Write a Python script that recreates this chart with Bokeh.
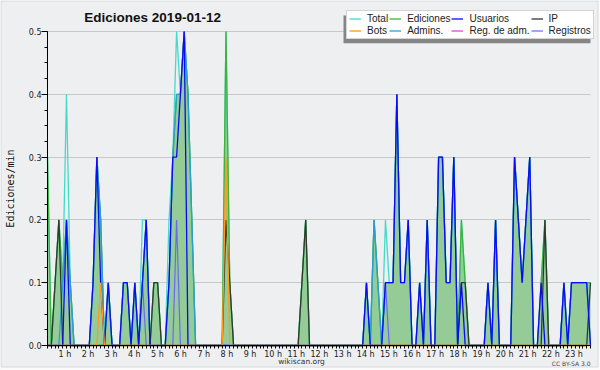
from bokeh.plotting import figure
from bokeh.models import (ColumnDataSource, FixedTicker, Legend, LegendItem, Label,
                          BoxAnnotation, CustomJSTickFormatter, NumeralTickFormatter, Range1d)
from bokeh.embed import file_html
from bokeh.resources import INLINE
import math

# ---- data: edits per minute, one value per 10-minute slot (00:00 .. 23:50) ----
slots = list(range(144))

total = [
    0.3, 0, 0.1, 0.2, 0.1, 0.4,      # 0 h
    0.1, 0, 0, 0, 0, 0,              # 1 h
    0.1, 0.3, 0.2, 0, 0.1, 0,        # 2 h
    0, 0, 0.1, 0.1, 0, 0.1,          # 3 h
    0, 0.2, 0.2, 0, 0.1, 0.1,        # 4 h
    0, 0, 0.2, 0.3, 0.5, 0.4,        # 5 h
    0.5, 0.4, 0.2, 0, 0, 0,          # 6 h
    0, 0, 0, 0, 0, 0.5,              # 7 h
    0.1, 0, 0, 0, 0, 0,              # 8 h
    0, 0, 0, 0, 0, 0,                # 9 h
    0, 0, 0, 0, 0, 0,                # 10 h
    0, 0.1, 0.2, 0, 0, 0,            # 11 h
    0, 0, 0, 0, 0, 0,                # 12 h
    0, 0, 0, 0, 0, 0,                # 13 h
    0.1, 0, 0.2, 0.1, 0, 0.2,        # 14 h
    0.1, 0.1, 0.4, 0.1, 0.1, 0.2,    # 15 h
    0, 0, 0.1, 0, 0.2, 0,            # 16 h
    0, 0.3, 0.3, 0.1, 0.1, 0.3,      # 17 h
    0, 0.2, 0.1, 0, 0, 0,            # 18 h
    0, 0, 0.1, 0, 0.2, 0,            # 19 h
    0, 0, 0, 0.3, 0.2, 0.1,          # 20 h
    0.2, 0.3, 0, 0, 0.1, 0.2,        # 21 h
    0, 0, 0, 0, 0.1, 0,              # 22 h
    0.1, 0.1, 0.1, 0.1, 0.1, 0.1,    # 23 h
]

edits = [
    0.3, 0, 0.1, 0.2, 0.1, 0.2,
    0.1, 0, 0, 0, 0, 0,
    0.1, 0.3, 0.2, 0, 0.1, 0,
    0, 0, 0.1, 0.1, 0, 0.1,
    0, 0.1, 0.2, 0, 0.1, 0.1,
    0, 0, 0.1, 0.3, 0.4, 0.4,
    0.5, 0.4, 0.2, 0, 0, 0,
    0, 0, 0, 0, 0, 0.5,
    0.1, 0, 0, 0, 0, 0,
    0, 0, 0, 0, 0, 0,
    0, 0, 0, 0, 0, 0,
    0, 0.1, 0.2, 0, 0, 0,
    0, 0, 0, 0, 0, 0,
    0, 0, 0, 0, 0, 0,
    0.1, 0, 0.2, 0.1, 0, 0.1,
    0.1, 0.1, 0.4, 0.1, 0.1, 0.2,
    0, 0, 0.1, 0, 0.2, 0,
    0, 0.3, 0.3, 0.1, 0.1, 0.3,
    0, 0.2, 0.1, 0, 0, 0,
    0, 0, 0.1, 0, 0.2, 0,
    0, 0, 0, 0.3, 0.2, 0.1,
    0.2, 0.3, 0, 0, 0.1, 0.2,
    0, 0, 0, 0, 0.1, 0,
    0.1, 0.1, 0.1, 0.1, 0.1, 0.1,
]

users = [
    0, 0, 0, 0, 0, 0.2,
    0, 0, 0, 0, 0, 0,
    0.1, 0.3, 0.1, 0, 0.1, 0,
    0, 0, 0.1, 0.1, 0, 0.1,
    0, 0.1, 0.2, 0, 0, 0,
    0, 0, 0.1, 0.3, 0.3, 0.4,
    0.5, 0, 0, 0, 0, 0,
    0, 0, 0, 0, 0, 0,
    0, 0, 0, 0, 0, 0,
    0, 0, 0, 0, 0, 0,
    0, 0, 0, 0, 0, 0,
    0, 0, 0, 0, 0, 0,
    0, 0, 0, 0, 0, 0,
    0, 0, 0, 0, 0, 0,
    0.1, 0, 0, 0, 0, 0.1,
    0.1, 0.1, 0.4, 0.1, 0.1, 0.2,
    0, 0, 0.1, 0, 0.2, 0,
    0, 0.3, 0.3, 0.1, 0.1, 0.3,
    0, 0.1, 0, 0, 0, 0,
    0, 0, 0.1, 0, 0.2, 0,
    0, 0, 0, 0.3, 0.2, 0.1,
    0.2, 0.3, 0, 0, 0.1, 0,
    0, 0, 0, 0, 0.1, 0,
    0.1, 0.1, 0.1, 0.1, 0.1, 0,
]

ip = [
    0, 0, 0.1, 0.2, 0, 0,
    0, 0, 0, 0, 0, 0,
    0, 0, 0, 0, 0, 0,
    0, 0, 0, 0, 0, 0,
    0, 0, 0, 0, 0.1, 0.1,
    0, 0, 0, 0, 0, 0,
    0, 0, 0, 0, 0, 0,
    0, 0, 0, 0, 0, 0.2,
    0.1, 0, 0, 0, 0, 0,
    0, 0, 0, 0, 0, 0,
    0, 0, 0, 0, 0, 0,
    0, 0.1, 0.2, 0, 0, 0,
    0, 0, 0, 0, 0, 0,
    0, 0, 0, 0, 0, 0,
    0, 0, 0, 0, 0, 0,
    0, 0, 0, 0, 0, 0,
    0, 0, 0, 0, 0, 0,
    0, 0, 0, 0, 0, 0,
    0, 0.1, 0.1, 0, 0, 0,
    0, 0, 0, 0, 0, 0,
    0, 0, 0, 0, 0, 0,
    0, 0, 0, 0, 0, 0.2,
    0, 0, 0, 0, 0, 0,
    0, 0, 0, 0, 0, 0.1,
]

bots = [
    0, 0, 0, 0, 0, 0,
    0, 0, 0, 0, 0, 0,
    0, 0, 0.1, 0, 0, 0,
    0, 0, 0, 0, 0, 0,
    0, 0, 0, 0, 0, 0,
    0, 0, 0, 0, 0, 0,
    0, 0, 0, 0, 0, 0,
    0, 0, 0, 0, 0, 0.3,
    0, 0, 0, 0, 0, 0,
    0, 0, 0, 0, 0, 0,
    0, 0, 0, 0, 0, 0,
    0, 0, 0, 0, 0, 0,
    0, 0, 0, 0, 0, 0,
    0, 0, 0, 0, 0, 0,
    0, 0, 0, 0, 0, 0,
    0, 0, 0, 0, 0, 0,
    0, 0, 0, 0, 0, 0,
    0, 0, 0, 0, 0, 0,
    0, 0, 0, 0, 0, 0,
    0, 0, 0, 0, 0, 0,
    0, 0, 0, 0, 0, 0,
    0, 0, 0, 0, 0, 0,
    0, 0, 0, 0, 0, 0,
    0, 0, 0, 0, 0, 0,
]

admins = [
    0, 0, 0, 0, 0.1, 0.2,
    0.1, 0, 0, 0, 0, 0,
    0.1, 0.3, 0.2, 0, 0.1, 0,
    0, 0, 0.1, 0.1, 0, 0.1,
    0, 0.1, 0.2, 0, 0, 0,
    0, 0, 0.1, 0.3, 0.4, 0.4,
    0.5, 0.4, 0.2, 0, 0, 0,
    0, 0, 0, 0, 0, 0,
    0, 0, 0, 0, 0, 0,
    0, 0, 0, 0, 0, 0,
    0, 0, 0, 0, 0, 0,
    0, 0, 0, 0, 0, 0,
    0, 0, 0, 0, 0, 0,
    0, 0, 0, 0, 0, 0,
    0.1, 0, 0.2, 0.1, 0, 0.1,
    0.1, 0.1, 0.4, 0.1, 0.1, 0.2,
    0, 0, 0.1, 0, 0.2, 0,
    0, 0.3, 0.3, 0.1, 0.1, 0.3,
    0, 0, 0, 0, 0, 0,
    0, 0, 0.1, 0, 0.2, 0,
    0, 0, 0, 0.3, 0.2, 0.1,
    0.2, 0.3, 0, 0, 0, 0,
    0, 0, 0, 0, 0.1, 0,
    0.1, 0.1, 0.1, 0.1, 0.1, 0,
]

reg_adm = [
    0, 0, 0, 0, 0, 0,
    0, 0, 0, 0, 0, 0,
    0, 0, 0, 0, 0, 0,
    0, 0, 0, 0, 0, 0,
    0, 0, 0, 0, 0, 0,
    0, 0, 0, 0, 0, 0,
    0, 0, 0, 0, 0, 0,
    0, 0, 0, 0, 0, 0,
    0, 0, 0, 0, 0, 0,
    0, 0, 0, 0, 0, 0,
    0, 0, 0, 0, 0, 0,
    0, 0, 0, 0, 0, 0,
    0, 0, 0, 0, 0, 0,
    0, 0, 0, 0, 0, 0,
    0, 0, 0, 0, 0, 0,
    0, 0, 0, 0, 0, 0,
    0, 0, 0, 0, 0, 0,
    0, 0, 0, 0, 0, 0,
    0, 0, 0, 0, 0, 0,
    0, 0, 0, 0, 0, 0,
    0, 0, 0, 0, 0, 0,
    0, 0, 0, 0, 0, 0,
    0, 0, 0, 0, 0, 0,
    0, 0, 0, 0, 0, 0,
]

registros = [
    0, 0, 0, 0, 0, 0,
    0, 0, 0, 0, 0, 0,
    0, 0, 0, 0, 0, 0,
    0, 0, 0, 0, 0, 0,
    0, 0.1, 0, 0, 0, 0,
    0, 0, 0, 0, 0.2, 0,
    0, 0, 0, 0, 0, 0,
    0, 0, 0, 0, 0, 0,
    0, 0, 0, 0, 0, 0,
    0, 0, 0, 0, 0, 0,
    0, 0, 0, 0, 0, 0,
    0, 0, 0, 0, 0, 0,
    0, 0, 0, 0, 0, 0,
    0, 0, 0, 0, 0, 0,
    0, 0, 0, 0, 0, 0.1,
    0, 0, 0, 0, 0, 0,
    0, 0, 0, 0, 0, 0,
    0, 0, 0, 0, 0, 0,
    0, 0, 0, 0, 0, 0,
    0, 0, 0, 0, 0, 0,
    0, 0, 0, 0, 0, 0,
    0, 0, 0, 0, 0, 0,
    0, 0, 0, 0, 0, 0,
    0, 0, 0, 0, 0, 0,
]

hour_labels = [f"{h} h" for h in range(1, 24)]
y_ticks = [0.0, 0.1, 0.2, 0.3, 0.4, 0.5]

# ---- layout: the frame fills the whole canvas, axes are pinned inside it ----
W, H = 600, 370
PLOT_L, PLOT_R, PLOT_T, PLOT_B = 47, 590, 31, 345
X_LAST, Y_TOP = 143, 0.5
sx = (PLOT_R - PLOT_L) / X_LAST
sy = (PLOT_B - PLOT_T) / Y_TOP
x_range = Range1d(-PLOT_L / sx, X_LAST + (W - PLOT_R) / sx)
y_range = Range1d(-(H - PLOT_B) / sy, Y_TOP + PLOT_T / sy)


def dx(px):
    return (px - PLOT_L) / sx


def dy(py):
    return (PLOT_B - py) / sy


src = ColumnDataSource(dict(x=slots, total=total, edits=edits, users=users, ip=ip,
                            bots=bots, admins=admins, reg_adm=reg_adm, registros=registros))

BG = "#eeeff1"
p = figure(width=W, height=H, x_range=x_range, y_range=y_range,
           output_backend="svg", toolbar_location=None,
           min_border=0, min_border_left=0, min_border_right=0,
           min_border_top=0, min_border_bottom=0,
           background_fill_color=BG, border_fill_color=BG)
p.title.visible = False
p.outline_line_color = None

# grid (limited to the plotting area)
p.xgrid.visible = False
p.ygrid.grid_line_color = "#c8c8c8"
p.ygrid.grid_line_width = 1
p.ygrid.bounds = (0, Y_TOP)
try:
    p.ygrid.cross_bounds = (0, X_LAST)
except Exception:
    p.ygrid.visible = False
    p.segment(x0=[0] * len(y_ticks), x1=[X_LAST] * len(y_ticks), y0=y_ticks, y1=y_ticks,
              line_color="#c8c8c8", line_width=1)

# fill + lines
p.varea(x="x", y1=0, y2="edits", source=src, fill_color="#94cb97")
r_total = p.line("x", "total", source=src, line_color="#46d9c9", line_width=1.3)
r_edits = p.line("x", "edits", source=src, line_color="#3cb43c", line_width=1.3)
r_admins = p.line("x", "admins", source=src, line_color="#2a9fd2", line_width=1.3)
r_regadm = p.line("x", "reg_adm", source=src, line_color="#d040d0", line_width=1.2)
r_reg = p.line("x", "registros", source=src, line_color="#6a6af0", line_width=1.2)
r_ip = p.line("x", "ip", source=src, line_color="#2f3a2f", line_width=1.3)
r_users = p.line("x", "users", source=src, line_color="#0a0af5", line_width=1.3)
r_bots = p.line("x", "bots", source=src, line_color="#ff9a1a", line_width=1.3)

# axes pinned at 0
hour_pos = [4.58 + 6.094 * i for i in range(len(hour_labels))]
xa = p.xaxis[0]
xa.fixed_location = 0
xa.bounds = (0, X_LAST)
xa.ticker = FixedTicker(ticks=hour_pos, minor_ticks=slots)
xa.formatter = CustomJSTickFormatter(args=dict(labels=hour_labels),
                                     code="return labels[index];")
xa.major_tick_out = 0
xa.major_tick_in = 0
xa.minor_tick_out = 3
xa.minor_tick_in = 0
xa.major_label_standoff = 1
xa.major_label_text_font = "DejaVu Sans"
xa.major_label_text_font_size = "8px"
xa.major_label_text_color = "#222222"
xa.axis_line_color = "black"
xa.minor_tick_line_color = "black"

ya = p.yaxis[0]
ya.fixed_location = 0
ya.bounds = (0, Y_TOP)
ya.ticker = FixedTicker(ticks=y_ticks, minor_ticks=[0.025 * i for i in range(21)])
ya.formatter = NumeralTickFormatter(format="0.0")
ya.major_tick_out = 6
ya.major_tick_in = 0
ya.minor_tick_out = 3
ya.minor_tick_in = 0
ya.major_label_standoff = 0
ya.major_label_text_font = "DejaVu Sans"
ya.major_label_text_font_size = "8px"
ya.major_label_text_color = "#222222"
ya.axis_line_color = "black"


# texts (screen units from the canvas bottom-left)
def lab(x, y, text, **kw):
    p.add_layout(Label(x=x, y=H - y, x_units="screen", y_units="screen", text=text,
                       text_baseline="middle", **kw))


lab(154, 16.5, "Ediciones  2019-01-12", text_font="Liberation Sans", text_font_style="bold",
    text_font_size="13.5px", text_align="center", text_color="#111111")
lab(10, 188, "Ediciones/min", text_font="DejaVu Sans Mono", text_font_size="10px",
    angle=math.pi / 2, text_align="center", text_color="#111111")
lab(301, 361, "wikiscan.org", text_font="DejaVu Sans", text_font_size="7.5px",
    text_align="center", text_color="#333333")
lab(590, 362.7, "CC BY-SA 3.0", text_font="DejaVu Sans", text_font_size="6px",
    text_align="right", text_color="#444444")

# image frame (light outer strip + grey line)
p.add_layout(BoxAnnotation(left=dx(598), right=dx(601), top=dy(-1), bottom=dy(371),
                           fill_color="#fbfbfb", fill_alpha=1, line_color=None))
p.add_layout(BoxAnnotation(left=dx(-1), right=dx(601), top=dy(367), bottom=dy(371),
                           fill_color="#fbfbfb", fill_alpha=1, line_color=None))
p.add_layout(BoxAnnotation(left=dx(0.5), right=dx(597.5), top=dy(0.5), bottom=dy(366.5),
                           fill_alpha=0, line_color="#a4a4a4", line_width=1))

# legend shadow + legend
p.add_layout(BoxAnnotation(left=dx(343), right=dx(590), top=dy(15), bottom=dy(42.7),
                           fill_color="#858585", fill_alpha=1, line_color=None))
legend = Legend(items=[
    LegendItem(label="Total", renderers=[r_total]),
    LegendItem(label="Ediciones", renderers=[r_edits]),
    LegendItem(label="Usuarios", renderers=[r_users]),
    LegendItem(label="IP", renderers=[r_ip]),
    LegendItem(label="Bots", renderers=[r_bots]),
    LegendItem(label="Admins.", renderers=[r_admins]),
    LegendItem(label="Reg. de adm.", renderers=[r_regadm]),
    LegendItem(label="Registros", renderers=[r_reg]),
], location=(346, H - 39), orientation="horizontal", ncols=4)
legend.label_text_font = "Liberation Sans"
legend.label_text_font_size = "10px"
legend.label_text_color = "#222222"
legend.label_height = 9
legend.glyph_height = 9
legend.glyph_width = 12
legend.label_standoff = 6
legend.spacing = 1
legend.padding = 2
legend.margin = 0
legend.border_line_color = "#a8a8a8"
legend.background_fill_color = "white"
legend.background_fill_alpha = 1
p.add_layout(legend)

open("out.html", "w").write(file_html(p, INLINE))
